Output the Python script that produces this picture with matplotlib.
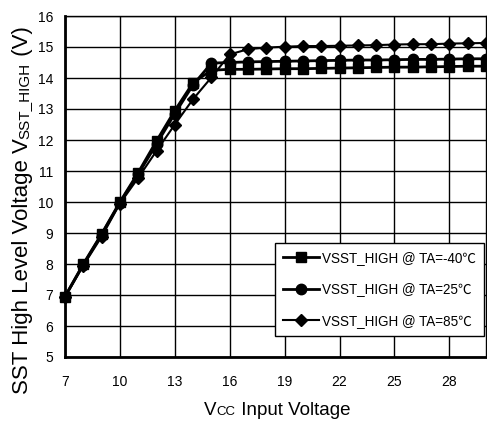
import matplotlib
matplotlib.use("Agg")
import matplotlib.pyplot as plt

plt.rcParams['font.family'] = ['Liberation Sans', 'Noto Sans CJK SC', 'DejaVu Sans']

vcc = list(range(7, 31))
v_m40 = [6.95, 8.0, 8.97, 10.0, 10.95, 11.97, 12.95, 13.85, 14.25, 14.28, 14.28, 14.29, 14.3, 14.3,
         14.31, 14.32, 14.33, 14.34, 14.35, 14.35, 14.36, 14.37, 14.38, 14.38]
v_25 = [6.95, 7.98, 8.95, 9.98, 10.9, 11.87, 12.85, 13.78, 14.48, 14.5, 14.52, 14.53, 14.54, 14.55,
        14.56, 14.57, 14.58, 14.58, 14.59, 14.6, 14.6, 14.61, 14.62, 14.62]
v_85 = [6.93, 7.95, 8.88, 9.95, 10.78, 11.65, 12.5, 13.32, 14.02, 14.76, 14.93, 14.98, 15.01, 15.03,
        15.03, 15.04, 15.05, 15.06, 15.08, 15.09, 15.09, 15.11, 15.12, 15.13]
labels = ["VSST_HIGH @ TA=-40\u2103", "VSST_HIGH @ TA=25\u2103", "VSST_HIGH @ TA=85\u2103"]
xticks = [7, 10, 13, 16, 19, 22, 25, 28]
yticks = list(range(5, 17))

W, H = 487, 421
fig = plt.figure(figsize=(W / 100, H / 100), dpi=100)
ax = fig.add_axes([65 / W, 1 - 357 / H, (486 - 65) / W, (357 - 16) / H])

ax.plot(vcc, v_m40, color='black', lw=2, marker='s', ms=7.5, label=labels[0], zorder=3, clip_on=False)
ax.plot(vcc, v_25, color='black', lw=2, marker='o', ms=7.5, label=labels[1], zorder=3, clip_on=False)
ax.plot(vcc, v_85, color='black', lw=1.5, marker='D', ms=6.5, label=labels[2], zorder=3, clip_on=False)

ax.set_xlim(7, 30)
ax.set_ylim(5, 16)
ax.set_xticks(xticks)
ax.set_yticks(yticks)
ax.grid(True, color='black', lw=1)
ax.tick_params(length=0, labelsize=10)
ax.tick_params(axis='x', pad=13)
ax.tick_params(axis='y', pad=8.5)
for s in ['left', 'bottom']:
    ax.spines[s].set_linewidth(2)
for s in ['top', 'right']:
    ax.spines[s].set_linewidth(1)

leg = ax.legend(loc='lower right', bbox_to_anchor=((484 - 65) / 421, (357 - 336) / 341),
                borderaxespad=0, fontsize=9.75, frameon=True,
                fancybox=False, edgecolor='black', framealpha=1, handlelength=2.6,
                labelspacing=1.3, borderpad=0.6, handletextpad=0.25)
leg.get_frame().set_linewidth(1)

# composed labels with small-caps style pieces on a common baseline
fig.canvas.draw()
renderer = fig.canvas.get_renderer()


def compose(pieces, x_px, y_px, rotation, center=True):
    widths = []
    for s, size in pieces:
        t = fig.text(0, 0, s, fontsize=size, rotation=0)
        widths.append(t.get_window_extent(renderer).width)
        t.remove()
    total = sum(widths)
    if rotation == 0:
        cur = x_px - total / 2 if center else x_px
        for (s, size), w in zip(pieces, widths):
            fig.text(cur / W, 1 - y_px / H, s, fontsize=size, ha='left', va='baseline')
            cur += w
    else:
        cur = y_px + total / 2 if center else y_px
        for (s, size), w in zip(pieces, widths):
            fig.text(x_px / W, 1 - cur / H, s, fontsize=size, ha='left', va='baseline',
                     rotation=90, rotation_mode='anchor')
            cur -= w


compose([("V", 13.5), ("CC", 9.5), (" Input Voltage", 13.5)], 277, 415, 0)
compose([("SST High Level Voltage V", 16), ("SST_HIGH", 11), (" (V)", 16)], 28, 210.5, 90)

fig.savefig("out.png", dpi=100)
